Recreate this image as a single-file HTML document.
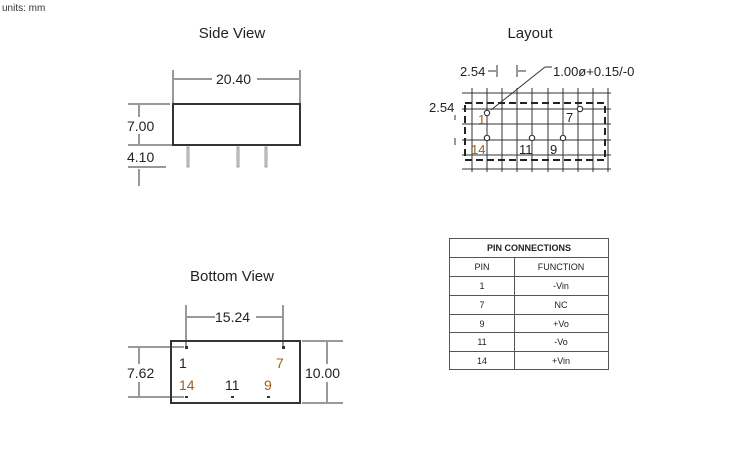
<!DOCTYPE html>
<html><head><style>
html,body{margin:0;padding:0;background:#fff;width:745px;height:455px;overflow:hidden}
svg{display:block;font-family:"Liberation Sans",sans-serif}
</style></head><body>
<svg width="745" height="455" viewBox="0 0 745 455" xmlns="http://www.w3.org/2000/svg">
<text x="2" y="11" font-size="10" fill="#333">units: mm</text>
<g font-size="15" fill="#222" text-anchor="middle">
<text x="232" y="38">Side View</text>
<text x="530" y="38">Layout</text>
<text x="232" y="281">Bottom View</text>
</g>
<g stroke="#333" stroke-width="1" fill="none">
<rect x="173" y="104" width="127" height="41" stroke-width="2"/>
<line x1="173" y1="70" x2="173" y2="103"/><line x1="300" y1="70" x2="300" y2="103"/>
<line x1="174" y1="79" x2="212" y2="79"/><line x1="257" y1="79" x2="299" y2="79"/>
<line x1="128" y1="104" x2="170" y2="104"/><line x1="128" y1="145" x2="172" y2="145"/><line x1="128" y1="167" x2="166" y2="167"/>
<line x1="139" y1="105" x2="139" y2="117"/><line x1="139" y1="134" x2="139" y2="144"/>
<line x1="139" y1="169" x2="139" y2="186"/>
<rect x="187" y="147" width="2" height="20" fill="#ddd" stroke="#777" stroke-width="0.7"/><rect x="237" y="147" width="2" height="20" fill="#ddd" stroke="#777" stroke-width="0.7"/><rect x="265" y="147" width="2" height="20" fill="#ddd" stroke="#777" stroke-width="0.7"/>
<rect x="171" y="341" width="129" height="62" stroke-width="2"/>
<line x1="186" y1="305" x2="186" y2="346"/><line x1="283" y1="305" x2="283" y2="346"/>
<line x1="187" y1="317" x2="215" y2="317"/><line x1="256" y1="317" x2="282" y2="317"/>
<line x1="128" y1="347" x2="184" y2="347"/><line x1="128" y1="397" x2="184" y2="397"/>
<line x1="139" y1="348" x2="139" y2="364"/><line x1="139" y1="382" x2="139" y2="396"/>
<line x1="302" y1="341" x2="343" y2="341"/><line x1="302" y1="403" x2="343" y2="403"/>
<line x1="327" y1="342" x2="327" y2="364"/><line x1="327" y1="382" x2="327" y2="402"/>
</g>
<g fill="#333">
<rect x="185" y="346" width="3" height="3"/><rect x="282" y="346" width="3" height="3"/>
<rect x="185" y="396" width="3" height="2"/><rect x="231" y="396" width="3" height="2"/><rect x="267" y="396" width="3" height="2"/>
</g>
<g font-size="14" fill="#222">
<text x="216" y="84">20.40</text>
<text x="127" y="131">7.00</text>
<text x="127" y="162">4.10</text>
<text x="215" y="322">15.24</text>
<text x="127" y="378">7.62</text>
<text x="305" y="378">10.00</text>
<text x="179" y="368">1</text>
<text x="276" y="368" fill="#a0601a">7</text>
<text x="179" y="390" fill="#a0601a">14</text>
<text x="225" y="390">11</text>
<text x="264" y="390" fill="#a0601a">9</text>
</g>
<g stroke="#333" stroke-width="1">
<line x1="472" y1="88" x2="472" y2="172"/><line x1="487" y1="88" x2="487" y2="172"/><line x1="502" y1="88" x2="502" y2="172"/><line x1="517" y1="88" x2="517" y2="172"/><line x1="532" y1="88" x2="532" y2="172"/><line x1="548" y1="88" x2="548" y2="172"/><line x1="563" y1="88" x2="563" y2="172"/><line x1="578" y1="88" x2="578" y2="172"/><line x1="593" y1="88" x2="593" y2="172"/><line x1="608" y1="88" x2="608" y2="172"/>
<line x1="462" y1="93" x2="611" y2="93"/><line x1="462" y1="109" x2="611" y2="109"/><line x1="462" y1="124" x2="611" y2="124"/><line x1="462" y1="140" x2="611" y2="140"/><line x1="462" y1="155" x2="611" y2="155"/><line x1="462" y1="169" x2="611" y2="169"/>
</g>
<rect x="465" y="103" width="140" height="57" fill="none" stroke="#222" stroke-width="2" stroke-dasharray="7,4"/>
<g fill="#fff" stroke="#222" stroke-width="1">
<circle cx="487" cy="113" r="2.7"/><circle cx="580" cy="109" r="2.7"/><circle cx="487" cy="138" r="2.7"/><circle cx="532" cy="138" r="2.7"/><circle cx="563" cy="138" r="2.7"/>
</g>
<g stroke="#333" stroke-width="1">
<line x1="491" y1="110" x2="545" y2="67"/><line x1="545" y1="67" x2="552" y2="67"/>
<line x1="488" y1="71" x2="496" y2="71"/><line x1="497" y1="65" x2="497" y2="77"/>
<line x1="517" y1="65" x2="517" y2="77"/><line x1="518" y1="71" x2="526" y2="71"/>
<line x1="455" y1="115" x2="455" y2="120"/><line x1="455" y1="138" x2="455" y2="145"/>
</g>
<g font-size="13" fill="#222">
<text x="460" y="76">2.54</text>
<text x="553" y="76">1.00ø+0.15/-0</text>
<text x="429" y="112">2.54</text>
<text x="478" y="124" fill="#a0601a">1</text>
<text x="566" y="122">7</text>
<text x="471" y="154" fill="#a0601a">14</text>
<text x="519" y="154">11</text>
<text x="550" y="154">9</text>
</g>
<g stroke="#555" stroke-width="1" fill="none">
<rect x="449.5" y="238.5" width="159" height="131"/>
<line x1="449" y1="257.5" x2="609" y2="257.5"/><line x1="449" y1="276.5" x2="609" y2="276.5"/><line x1="449" y1="295.5" x2="609" y2="295.5"/><line x1="449" y1="314.5" x2="609" y2="314.5"/><line x1="449" y1="332.5" x2="609" y2="332.5"/><line x1="449" y1="351.5" x2="609" y2="351.5"/>
<line x1="514.5" y1="257" x2="514.5" y2="370"/>
</g>
<g font-size="9" fill="#222" text-anchor="middle">
<text x="529" y="251" font-weight="bold">PIN CONNECTIONS</text>
<text x="482" y="270">PIN</text><text x="561" y="270">FUNCTION</text>
<text x="482" y="289">1</text><text x="561" y="289">-Vin</text>
<text x="482" y="308">7</text><text x="561" y="308">NC</text>
<text x="482" y="327">9</text><text x="561" y="327">+Vo</text>
<text x="482" y="345">11</text><text x="561" y="345">-Vo</text>
<text x="482" y="364">14</text><text x="561" y="364">+Vin</text>
</g>
</svg>
</body></html>
